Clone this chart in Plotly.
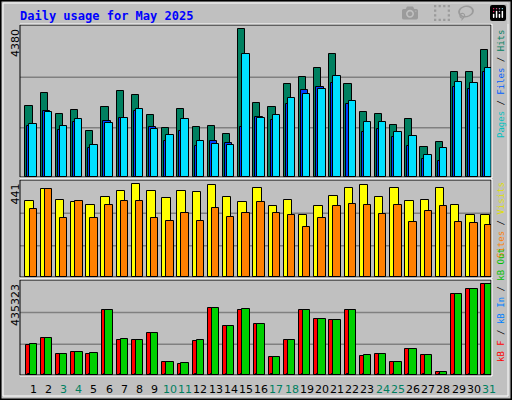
import plotly.graph_objects as go

days = list(range(1, 32))
weekend = [3, 4, 10, 11, 17, 18, 24, 25, 31]
hits = [2121,2478,1883,2002,1377,2091,2537,2418,1853,1467,2032,1496,1526,1288,4380,2210,2091,2745,2953,3221,3637,2745,1942,1883,1556,1734,902,1050,3102,3102,3756]
files = [1526,1972,1407,1645,872,1675,1764,1972,1496,1080,1377,932,1080,1021,1496,1794,1705,2180,2567,2656,2775,2180,1348,1437,1199,932,545,486,2656,2596,3102]
pages = [1586,1942,1526,1734,961,1615,1764,2032,1437,1259,1734,1080,991,961,3637,1764,1853,2329,2448,2596,2983,2240,1645,1645,1348,1229,664,872,2805,2775,3221]
visits = [360,417,369,355,341,379,408,441,408,374,412,403,436,379,355,422,336,369,293,336,384,422,436,379,422,360,365,422,345,293,293]
sites = [322,417,283,360,279,345,360,360,279,269,307,269,331,288,307,355,307,293,236,279,336,350,345,298,341,264,312,336,264,255,250]
kb_out = [149892,177000,100460,110027,105244,310947,172217,167433,200920,62189,57406,167433,320515,234406,315731,243974,86108,167433,310947,267893,263109,310947,95676,100460,62189,124379,95676,14351,387488,411407,435323]
kb_f = [143500,177000,100460,110027,100400,310947,167400,167433,200920,62189,52600,162600,320515,234406,310947,243974,86108,167433,310947,267893,263109,310947,90900,100460,62189,124379,95676,14351,387488,411407,435323]
kb_in = [3000]*31

W, H = 512, 400
x0, x1 = 20/W, 491/W
def py(p): return 1 - p/H
panels = [(25, 177), (180, 277), (280, 375)]
tops = [4509, 462, 456053]

fig = go.Figure()
def bars(vals, off, width, color, ax):
    fig.add_trace(go.Bar(x=[d - 1 + off for d in days], y=vals, width=width,
                         marker=dict(color=color, line=dict(color="black", width=1)),
                         xaxis="x" + ax, yaxis="y" + ax, showlegend=False, hoverinfo="skip"))
bars(hits, 0.59, 0.47, "#008060", "")
bars(files, 0.733, 0.49, "#0040FF", "")
bars(pages, 0.867, 0.49, "#00E0FF", "")
bars(visits, 0.64, 0.56, "#FFFF00", "2")
bars(sites, 0.87, 0.49, "#FF8000", "2")
bars(kb_f, 0.62, 0.5, "#FF0000", "3")
bars(kb_in, 0.6, 0.1, "#0060FF", "3")
bars(kb_out, 0.87, 0.49, "#00D000", "3")

lay = dict(width=W, height=H, margin=dict(l=0, r=0, t=0, b=0),
           paper_bgcolor="#C0C0C0", plot_bgcolor="#C0C0C0", barmode="overlay", bargap=0)
for i, (a, b) in enumerate(panels):
    s = "" if i == 0 else str(i + 1)
    lay["xaxis" + s] = dict(domain=[x0, x1], range=[0, 31], showticklabels=False, showgrid=False,
                            zeroline=False, anchor="y" + s, fixedrange=True)
    lay["yaxis" + s] = dict(domain=[py(b), py(a)], range=[0, tops[i]], showticklabels=False,
                            showgrid=False, zeroline=False, anchor="x" + s, fixedrange=True)
fig.update_layout(**lay)

shapes = []
for i, (a, b) in enumerate(panels):
    s = "" if i == 0 else str(i + 1)
    for f in (1/3, 2/3):
        shapes.append(dict(type="line", xref="x domain" if s == "" else "x%s domain" % s,
                           yref="y domain" if s == "" else "y%s domain" % s,
                           x0=0, x1=1, y0=f - 0.01, y1=f - 0.01, line=dict(color="#808080", width=1.5), layer="below"))
    shapes.append(dict(type="rect", xref="paper", yref="paper", x0=x0, x1=x1, y0=py(b), y1=py(a),
                       line=dict(color="black", width=1)))
    shapes.append(dict(type="line", xref="paper", yref="paper", x0=x0, x1=x1 + 1/W, y0=py(a - 1), y1=py(a - 1),
                       line=dict(color="white", width=1)))
    shapes.append(dict(type="line", xref="paper", yref="paper", x0=x1 + 1/W, x1=x1 + 1/W, y0=py(b + 1), y1=py(a - 1),
                       line=dict(color="white", width=1)))
    shapes.append(dict(type="line", xref="paper", yref="paper", x0=x0, x1=x1 + 1/W, y0=py(b + 1), y1=py(b + 1),
                       line=dict(color="white", width=1)))
shapes.append(dict(type="rect", xref="paper", yref="paper", x0=0.5/W, x1=1 - 0.5/W, y0=0.5/H, y1=1 - 0.5/H,
                   line=dict(color="black", width=2)))
shapes.append(dict(type="rect", xref="paper", yref="paper", x0=3/W, x1=1 - 4/W, y0=4/H, y1=1 - 3/H,
                   line=dict(color="white", width=1)))
fig.update_layout(shapes=shapes)

mono = "DejaVu Sans Mono"
ann = [dict(text="<b>Daily usage for May 2025</b>", x=18/W, y=py(7), xref="paper", yref="paper",
            xanchor="left", yanchor="top", showarrow=False, font=dict(family=mono, size=12, color="#0000FF"))]
for lab, a in [("4380", 25), ("441", 180), ("435323", 280)]:
    ann.append(dict(text=lab, x=15/W, y=py(a + 2), xref="paper", yref="paper", textangle=-90,
                    xanchor="center", yanchor="top", showarrow=False, font=dict(family="DejaVu Sans", size=11, color="black")))
right = [
    ('<span style="color:#00C0C0">Pages</span> / <span style="color:#0060FF">Files</span> / <span style="color:#008060">Hits</span>', 28),
    ('<span style="color:#FF8000">Sites</span> / <span style="color:#E0E000">Visits</span>', 180),
    ('<span style="color:#FF0000">kB F</span> / <span style="color:#0080FF">kB In</span> / <span style="color:#00C000">kB Out</span>', 246),
]
for t, a in right:
    ann.append(dict(text=t, x=501/W, y=py(a), xref="paper", yref="paper", textangle=-90,
                    xanchor="center", yanchor="top", showarrow=False, font=dict(family=mono, size=9, color="black")))
for d in days:
    ann.append(dict(text=str(d), x=d - 1 + 0.87, y=py(389), xref="x3", yref="paper", showarrow=False,
                    xanchor="center", yanchor="middle",
                    font=dict(family="DejaVu Sans", size=11, color="#008060" if d in weekend else "black")))
fig.update_layout(annotations=ann)
fig.write_html("out.html", post_script="document.body.style.margin='0';document.body.style.overflow='hidden';")
